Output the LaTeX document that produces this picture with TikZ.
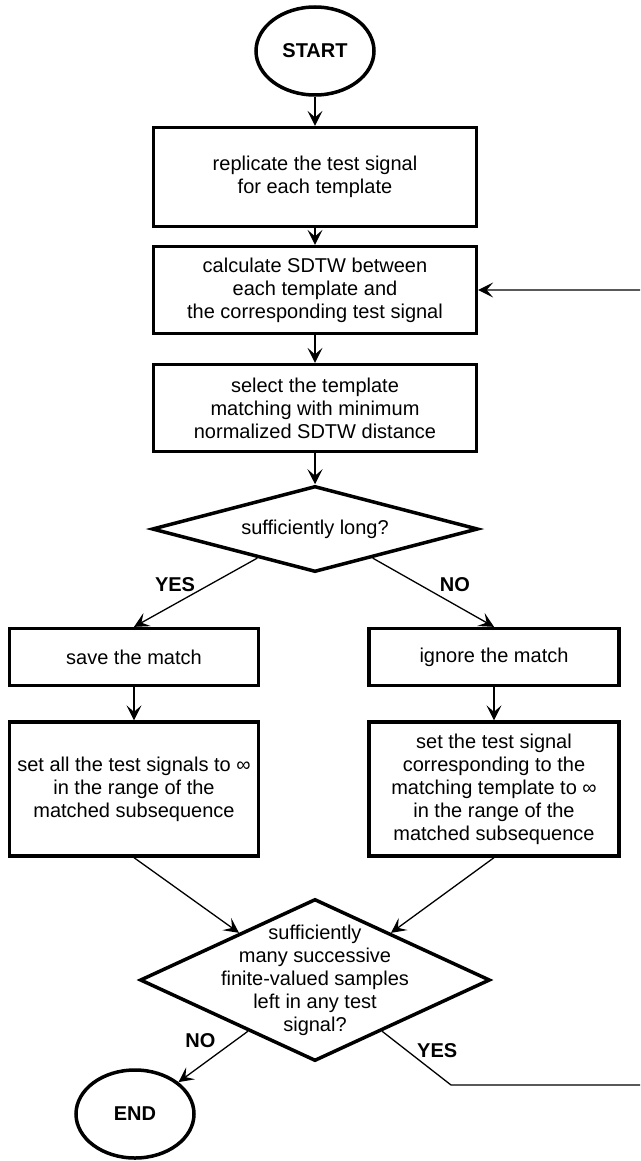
\documentclass[tikz,border=0pt]{standalone}
\usepackage{fontspec}
\setmainfont{Liberation Sans}
\usetikzlibrary{shapes.geometric,arrows.meta,calc}

\tikzset{
  terminal/.style={ellipse,draw,line width=3.5pt,minimum width=118pt,minimum height=88pt,inner sep=0pt,font=\fontsize{20}{23}\selectfont\bfseries},
  process/.style={rectangle,draw,line width=3.3pt,align=center,inner sep=0pt},
  decision/.style={diamond,draw,line width=3.5pt,inner sep=0pt,align=center},
  flow/.style={line width=1.3pt,-{Stealth[length=15pt,width=15pt,inset=6.5pt]}},
  answer/.style={font=\fontsize{20}{23}\selectfont\bfseries,inner sep=0pt}
}

\begin{document}
\begin{tikzpicture}[x=1pt,y=-1pt,font=\fontsize{20}{23}\selectfont]

    \clip(0,0)rectangle(640,1161);
    \fill[white](0,0)rectangle(640,1161);

    \node[terminal](start)at(315,51){START};
    \node[process,minimum width=323pt,minimum height=99pt](rep)at(315,177){replicate the test signal\\for each template};
    \node[process,minimum width=323pt,minimum height=87pt](sdtw)at(315,290){calculate SDTW between\\each template and\\the corresponding test signal};
    \node[process,minimum width=323pt,minimum height=87pt](sel)at(315,408){select the template\\matching with minimum\\normalized SDTW distance};
    \node[decision,aspect=3.8,minimum width=326pt,minimum height=86pt](dlong)at(315,529){sufficiently long?};

    \node[process,minimum width=249pt,minimum height=57pt](save)at(134,657){save the match};
    \node[process,minimum width=250pt,minimum height=57pt](ignore)at(494,657){ignore the match};
    \node[process,minimum width=249pt,minimum height=134pt](setall)at(134,789){set all the test signals to ∞\\in the range of the\\matched subsequence};
    \node[process,minimum width=250pt,minimum height=134pt](setone)at(494,789){set the test signal\\corresponding to the\\matching template to ∞\\in the range of the\\matched subsequence};

    \node[decision,aspect=2.15,minimum width=350pt,minimum height=162pt,
      label={[align=center]center:sufficiently\\many successive\\finite-valued samples\\left in any test\\signal?}](dloop)at(315,980){};
    \node[terminal](finish)at(135,1114){END};

    \coordinate(bend)at(451,1085);
    \coordinate(back)at(660,1085);

    \draw[flow](start)--(rep);
    \draw[flow](rep)--(sdtw);
    \draw[flow](sdtw)--(sel);
    \draw[flow](sel)--(dlong);
    \draw[flow]($(dlong.south)!0.35!(dlong.west)$)--node[answer,pos=0.5,above left]{YES}(save.north);
    \draw[flow]($(dlong.south)!0.35!(dlong.east)$)--node[answer,pos=0.5,above right,xshift=6pt]{NO}(ignore.north);
    \draw[flow](save)--(setall);
    \draw[flow](ignore)--(setone);
    \draw[flow](setall.south)--($(dloop.north)!0.43!(dloop.west)$);
    \draw[flow](setone.south)--($(dloop.north)!0.43!(dloop.east)$);
    \draw[flow]($(dloop.south)!0.38!(dloop.west)$)--node[answer,pos=0.4,above left,xshift=-4pt,yshift=3pt]{NO}(finish);
    \draw[flow]($(dloop.south)!0.38!(dloop.east)$)--node[answer,pos=0.5,above right]{YES}(bend)--(back)|-(sdtw.east);
  \end{tikzpicture}
\end{document}
